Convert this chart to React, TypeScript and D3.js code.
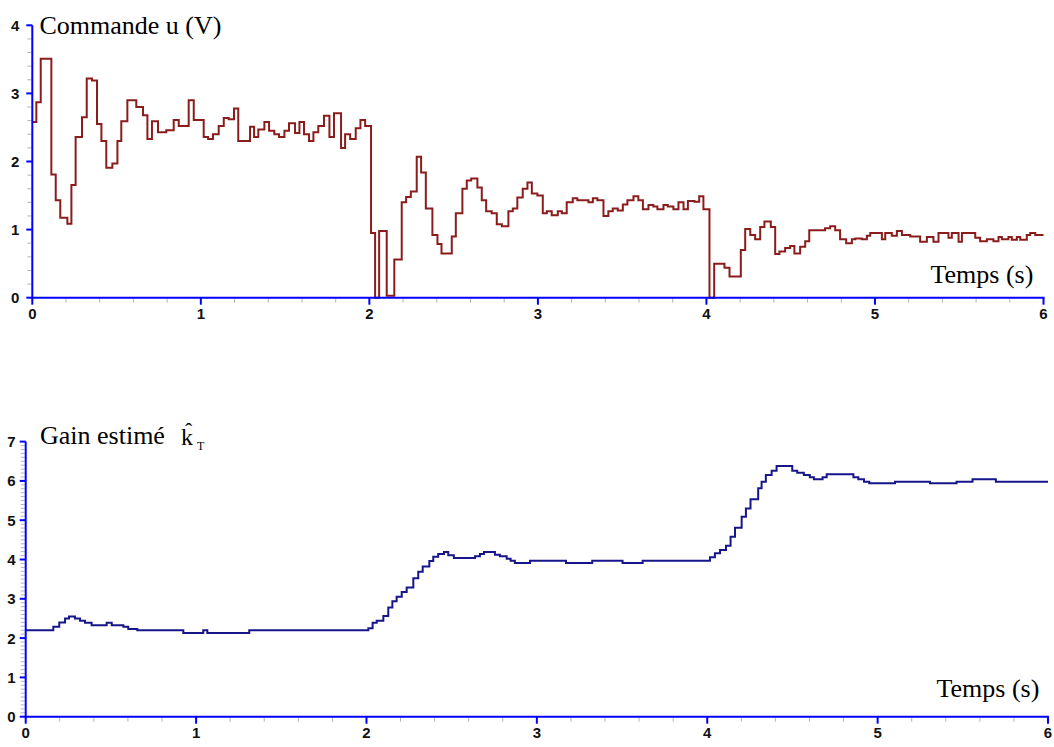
import React from "react";
import * as d3 from "d3";

// ---- Data: commande u (V), step start times (s) and values ----
const uTimes = [
  0, 0.024, 0.05, 0.113, 0.139, 0.166, 0.208, 0.232, 0.257, 0.295, 0.323, 0.354, 0.384, 0.41, 0.439, 0.475,
  0.505, 0.528, 0.564, 0.617, 0.657, 0.683, 0.71, 0.746, 0.795, 0.839, 0.869, 0.928, 0.958, 1.017, 1.043,
  1.072, 1.106, 1.136, 1.165, 1.197, 1.222, 1.292, 1.316, 1.341, 1.377, 1.405, 1.436, 1.464, 1.496, 1.523,
  1.559, 1.585, 1.612, 1.642, 1.668, 1.697, 1.731, 1.763, 1.79, 1.832, 1.856, 1.886, 1.919, 1.947, 1.975,
  2.01, 2.034, 2.058, 2.103, 2.148, 2.192, 2.218, 2.246, 2.281, 2.307, 2.335, 2.374, 2.404, 2.428, 2.489,
  2.513, 2.552, 2.578, 2.604, 2.641, 2.667, 2.693, 2.726, 2.756, 2.786, 2.825, 2.851, 2.878, 2.91, 2.938,
  2.964, 2.997, 3.029, 3.053, 3.082, 3.118, 3.142, 3.171, 3.207, 3.234, 3.3, 3.326, 3.353, 3.389, 3.418,
  3.444, 3.474, 3.504, 3.531, 3.567, 3.596, 3.623, 3.656, 3.685, 3.709, 3.745, 3.771, 3.804, 3.834, 3.864,
  3.89, 3.929, 3.957, 3.982, 4.018, 4.046, 4.107, 4.137, 4.204, 4.23, 4.26, 4.289, 4.319, 4.344, 4.382,
  4.408, 4.433, 4.467, 4.497, 4.522, 4.556, 4.586, 4.61, 4.704, 4.734, 4.764, 4.793, 4.829, 4.863, 4.883,
  4.922, 4.952, 4.972, 5.041, 5.061, 5.1, 5.13, 5.16, 5.209, 5.268, 5.308, 5.347, 5.377, 5.436, 5.456,
  5.496, 5.516, 5.595, 5.624, 5.664, 5.703, 5.733, 5.753, 5.792, 5.812, 5.842, 5.862, 5.901, 5.921, 5.951,
];
const uValues = [
  2.58, 2.87, 3.51, 1.81, 1.43, 1.175, 1.087, 1.655, 2.36, 2.65, 3.22, 3.19, 2.55, 2.3, 1.91, 1.97,
  2.3, 2.59, 2.9, 2.8, 2.68, 2.33, 2.59, 2.43, 2.46, 2.61, 2.52, 2.9, 2.61, 2.36, 2.33,
  2.4, 2.52, 2.64, 2.62, 2.78, 2.3, 2.51, 2.36, 2.47, 2.58, 2.45, 2.4, 2.36, 2.45, 2.56,
  2.42, 2.58, 2.4, 2.3, 2.43, 2.52, 2.67, 2.36, 2.71, 2.2, 2.4, 2.33, 2.49, 2.61, 2.52,
  0.95, 0, 0.98, 0.03, 0.56, 1.4, 1.48, 1.56, 2.07, 1.84, 1.31, 0.92, 0.79, 0.65, 0.9,
  1.24, 1.6, 1.72, 1.75, 1.62, 1.43, 1.27, 1.24, 1.08, 1.05, 1.27, 1.31, 1.47, 1.6, 1.69,
  1.53, 1.5, 1.24, 1.27, 1.21, 1.27, 1.24, 1.4, 1.46, 1.43, 1.4, 1.46, 1.43, 1.2, 1.27,
  1.31, 1.28, 1.37, 1.43, 1.49, 1.43, 1.3, 1.36, 1.34, 1.3, 1.36, 1.34, 1.3, 1.4, 1.3,
  1.42, 1.41, 1.49, 1.3, 0, 0.5, 0.44, 0.31, 0.7, 1.01, 0.92, 0.86, 1.04, 1.12, 1.04,
  0.64, 0.68, 0.73, 0.76, 0.65, 0.75, 0.83, 0.99, 1.02, 1.05, 0.99, 0.86, 0.8, 0.86, 0.87,
  0.86, 0.91, 0.95, 0.86, 0.95, 0.91, 0.98, 0.92, 0.9, 0.82, 0.89, 0.82, 0.95, 0.88, 0.95,
  0.82, 0.95, 0.88, 0.83, 0.86, 0.83, 0.89, 0.86, 0.89, 0.85, 0.89, 0.85, 0.92, 0.95, 0.92,
];

// ---- Data: gain estimé k_T ----
const kTimes = [
  0, 0.162, 0.197, 0.231, 0.254, 0.289, 0.319, 0.348, 0.387, 0.475, 0.505, 0.573, 0.602, 0.655, 0.925,
  1.042, 1.066, 1.312, 2.011, 2.036, 2.06, 2.099, 2.128, 2.152, 2.177, 2.207, 2.236, 2.275, 2.304, 2.33,
  2.369, 2.392, 2.421, 2.455, 2.48, 2.513, 2.637, 2.666, 2.69, 2.754, 2.783, 2.823, 2.846, 2.871, 2.96,
  3.171, 3.325, 3.503, 3.621, 4.016, 4.045, 4.075, 4.11, 4.137, 4.163, 4.202, 4.227, 4.254, 4.299, 4.319,
  4.344, 4.378, 4.407, 4.499, 4.528, 4.567, 4.602, 4.626, 4.677, 4.701, 4.858, 4.887, 4.92, 4.951, 5.102,
  5.307, 5.463, 5.557, 5.694,
];
const kValues = [
  2.2, 2.29, 2.4, 2.5, 2.55, 2.5, 2.44, 2.39, 2.33, 2.39, 2.33, 2.29, 2.23, 2.2, 2.13,
  2.2, 2.13, 2.2, 2.25, 2.39, 2.44, 2.56, 2.78, 2.94, 3.05, 3.17, 3.29, 3.52, 3.69, 3.82,
  3.96, 4.07, 4.14, 4.19, 4.11, 4.04, 4.08, 4.14, 4.19, 4.12, 4.08, 4.02, 3.97, 3.91, 3.97,
  3.91, 3.97, 3.91, 3.97, 4.06, 4.16, 4.24, 4.35, 4.58, 4.81, 5.09, 5.3, 5.53, 5.81, 5.98,
  6.15, 6.26, 6.38, 6.26, 6.21, 6.15, 6.09, 6.04, 6.09, 6.17, 6.09, 6.04, 5.98, 5.94, 5.98,
  5.94, 5.98, 6.04, 5.98,
];

const xTickValues = [0, 1, 2, 3, 4, 5, 6];
const uTickValues = [0, 1, 2, 3, 4];
const kTickValues = [0, 1, 2, 3, 4, 5, 6, 7];
const T_END = 6;

const AXIS = "#0000ff";
const MINOR = "#b4b4b4";
const LABEL_FONT = "'Liberation Sans', Arial, sans-serif";
const SERIF = "'Liberation Serif', serif";

type Pt = [number, number];

function stepPoints(ts: number[], vs: number[]): Pt[] {
  const pts: Pt[] = ts.map((t, i) => [t, vs[i]] as Pt);
  pts.push([T_END, vs[vs.length - 1]]);
  return pts;
}

function Panel(props: {
  x0: number; x1: number; y0: number; y1: number; yMax: number;
  yTicks: number[]; yMinorStep: number; pts: Pt[]; color: string; labelGap: number;
  xLabelBaseline: number;
}) {
  const { x0, x1, y0, y1, yMax, yTicks, yMinorStep, pts, color, labelGap, xLabelBaseline } = props;
  const x = d3.scaleLinear().domain([0, 6]).range([x0, x1]);
  const y = d3.scaleLinear().domain([0, yMax]).range([y0, y1]);
  const line = d3.line<Pt>().x((d) => x(d[0])).y((d) => y(d[1])).curve(d3.curveStepAfter);
  const xMinor = d3.range(0, 6.0001, 0.2).filter((v) => Math.abs(v - Math.round(v)) > 1e-6);
  const yMinor = d3.range(0, yMax + 1e-6, yMinorStep).filter((v) => Math.abs(v - Math.round(v)) > 1e-6);
  return (
    <g>
      {xMinor.map((v) => (
        <line key={"xm" + v} x1={x(v)} x2={x(v)} y1={y0 + 1} y2={y0 + 5} stroke={MINOR} strokeWidth={1} />
      ))}
      {yMinor.map((v) => (
        <line key={"ym" + v} x1={x0 - 5} x2={x0 - 1} y1={y(v)} y2={y(v)} stroke={MINOR} strokeWidth={1} />
      ))}
      <path d={line(pts) || ""} fill="none" stroke={color} strokeWidth={2} />
      <line x1={x0} x2={x1 + 1} y1={y0} y2={y0} stroke={AXIS} strokeWidth={2} />
      <line x1={x0} x2={x0} y1={y1} y2={y0 + 1} stroke={AXIS} strokeWidth={2} />
      {xTickValues.map((v) => (
        <g key={"xt" + v}>
          <line x1={x(v)} x2={x(v)} y1={y0} y2={y0 + 7} stroke={AXIS} strokeWidth={2} />
          <text x={x(v)} y={xLabelBaseline} textAnchor="middle" fontFamily={LABEL_FONT} fontWeight="bold" fontSize={15} fill="#111">
            {v}
          </text>
        </g>
      ))}
      {yTicks.map((v) => (
        <g key={"yt" + v}>
          <line x1={x0 - 6} x2={x0} y1={y(v)} y2={y(v)} stroke={AXIS} strokeWidth={2} />
          <text x={x0 - labelGap} y={y(v) + 5.5} textAnchor="end" fontFamily={LABEL_FONT} fontWeight="bold" fontSize={15} fill="#111">
            {v}
          </text>
        </g>
      ))}
    </g>
  );
}

export default function App() {
  const uPts = stepPoints(uTimes, uValues);
  const kPts = stepPoints(kTimes, kValues);
  return (
    <svg width={1054} height={747} style={{ position: "absolute", left: 0, top: 0, background: "#fff" }}>
      <rect width={1054} height={747} fill="#fff" />
      <Panel x0={32.3} x1={1043.5} y0={297.7} y1={25.3} yMax={4} yTicks={uTickValues} yMinorStep={0.2}
        pts={uPts} color="#8b1c1c" labelGap={13} xLabelBaseline={318.5} />
      <Panel x0={25.7} x1={1048} y0={716.7} y1={441.6} yMax={7} yTicks={kTickValues} yMinorStep={0.1}
        pts={kPts} color="#16168a" labelGap={10} xLabelBaseline={737.5} />
      <text x={39.5} y={34} fontFamily={SERIF} fontSize={26} fill="#000">Commande u (V)</text>
      <text x={930.5} y={283} fontFamily={SERIF} fontSize={26} fill="#000">Temps (s)</text>
      <text x={936.5} y={696.5} fontFamily={SERIF} fontSize={26} fill="#000">Temps (s)</text>
      <text x={40} y={444.3} fontFamily={SERIF} fontSize={26} fill="#000">{"Gain estim\u00e9"}</text>
      <text x={181} y={445} fontFamily={SERIF} fontSize={24} fill="#000">k</text>
      <text x={185} y={438} fontFamily={SERIF} fontSize={22} fill="#000">{"\u02c6"}</text>
      <text x={197} y={450} fontFamily={SERIF} fontSize={12} fill="#000">T</text>
    </svg>
  );
}
